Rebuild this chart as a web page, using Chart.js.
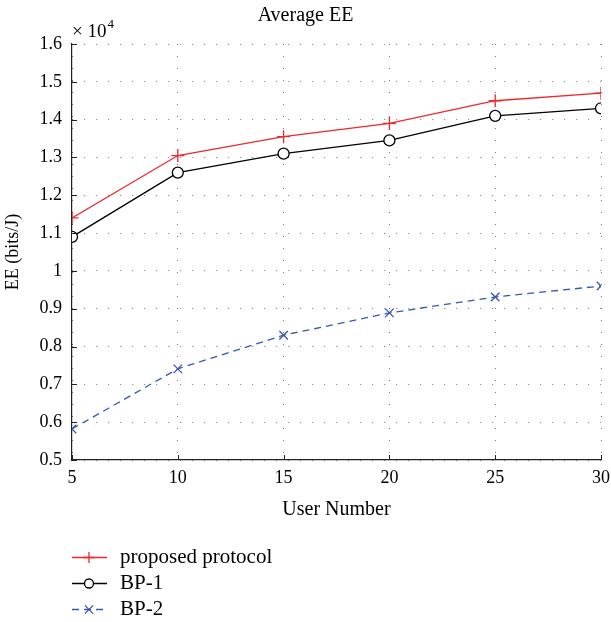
<!DOCTYPE html>
<html><head><meta charset="utf-8">
<script src="https://cdn.jsdelivr.net/npm/chart.js@4"></script>
<style>html,body{margin:0;padding:0;background:#fff}canvas{display:block}</style>
</head><body>
<canvas id="c" width="611" height="622"></canvas>
<script>
const userNumbers = [5, 10, 15, 20, 25, 30];
const proposed = [1.14, 1.305, 1.355, 1.39, 1.45, 1.47];
const bp1 = [1.09, 1.26, 1.31, 1.345, 1.41, 1.43];
const bp2 = [0.582, 0.741, 0.83, 0.889, 0.931, 0.96];
const seriesLabels = ['proposed protocol', 'BP-1', 'BP-2'];
const titleText = 'Average EE';
const xTitle = 'User Number';
const yTitle = 'EE (bits/J)';

const FONT = '"Liberation Serif", "DejaVu Serif", serif';
const toXY = arr => userNumbers.map((x, i) => ({x, y: arr[i]}));

function drawMarker(ctx, style, x, y, r, color) {
  ctx.save();
  ctx.strokeStyle = color; ctx.lineWidth = 1.3; ctx.setLineDash([]);
  ctx.beginPath();
  if (style === 'cross') {
    ctx.moveTo(x - r, y); ctx.lineTo(x + r, y);
    ctx.moveTo(x, y - r); ctx.lineTo(x, y + r);
  } else if (style === 'crossRot') {
    const d = r * 0.75;
    ctx.moveTo(x - d, y - d); ctx.lineTo(x + d, y + d);
    ctx.moveTo(x + d, y - d); ctx.lineTo(x - d, y + d);
  } else {
    ctx.arc(x, y, r, 0, Math.PI * 2);
    ctx.fillStyle = '#fff'; ctx.fill();
  }
  ctx.stroke();
  ctx.restore();
}

const extras = {
  id: 'extras',
  afterDraw(chart) {
    const ctx = chart.ctx;
    const xs = chart.scales.x, ys = chart.scales.y;
    const a = chart.chartArea;
    ctx.save();
    ctx.strokeStyle = '#222'; ctx.lineWidth = 1; ctx.setLineDash([]);
    ys.ticks.forEach(t => {
      const py = Math.round(ys.getPixelForValue(t.value)) + 0.5;
      ctx.beginPath(); ctx.moveTo(a.left, py); ctx.lineTo(a.left + 5, py); ctx.stroke();
    });
    xs.ticks.forEach(t => {
      const px = Math.round(xs.getPixelForValue(t.value)) + 0.5;
      ctx.beginPath(); ctx.moveTo(px, a.bottom); ctx.lineTo(px, a.bottom - 5); ctx.stroke();
    });
    // exponent
    ctx.fillStyle = '#000';
    ctx.textBaseline = 'alphabetic'; ctx.textAlign = 'left';
    ctx.font = '19px ' + FONT;
    ctx.fillText('\u00d7 10', a.left, a.top - 7);
    const w = ctx.measureText('\u00d7 10').width;
    ctx.font = '13px ' + FONT;
    ctx.fillText('4', a.left + w + 1, a.top - 16);
    // legend
    const rows = [557, 583, 609];
    chart.data.datasets.forEach((ds, i) => {
      const y = rows[i] + 0.5;
      ctx.save();
      ctx.strokeStyle = ds.borderColor; ctx.lineWidth = 1.3;
      ctx.setLineDash(ds.borderDash || []);
      ctx.beginPath(); ctx.moveTo(72, y); ctx.lineTo(107, y); ctx.stroke();
      ctx.restore();
      drawMarker(ctx, ds.pointStyle, 89, y, ds.pointStyle === 'circle' ? 4.5 : 5.5, ds.borderColor);
      ctx.fillStyle = '#000'; ctx.font = '21px ' + FONT;
      ctx.textBaseline = 'middle'; ctx.textAlign = 'left';
      ctx.fillText(ds.label, 120, rows[i]);
    });
    ctx.restore();
  }
};

new Chart(document.getElementById('c'), {
  type: 'line',
  data: {
    datasets: [
      {label: seriesLabels[0], data: toXY(proposed), borderColor: '#f0262b', backgroundColor: '#f0262b',
       borderWidth: 1.3, pointStyle: 'cross', pointRadius: 6.5, pointBorderWidth: 1.3, pointBorderColor: '#f0262b'},
      {label: seriesLabels[1], data: toXY(bp1), borderColor: '#000000', backgroundColor: '#ffffff',
       borderWidth: 1.3, pointStyle: 'circle', pointRadius: 5.5, pointBorderWidth: 1.3, pointBackgroundColor: '#ffffff'},
      {label: seriesLabels[2], data: toXY(bp2), borderColor: '#3557b5', backgroundColor: '#3557b5',
       borderWidth: 1.3, borderDash: [7, 5], pointStyle: 'crossRot', pointRadius: 6, pointBorderWidth: 1.3}
    ]
  },
  options: {
    responsive: false, animation: false,
    layout: {padding: {left: 0, right: 0, top: 0, bottom: 92}},
    plugins: {
      legend: {display: false},
      tooltip: {enabled: false},
      title: {display: true, text: titleText, color: '#000', font: {family: FONT, size: 20, weight: 'normal'},
              padding: {top: 4, bottom: 16}}
    },
    scales: {
      x: {
        type: 'linear', min: 5, max: 30,
        ticks: {stepSize: 5, color: '#000', font: {family: FONT, size: 18}, padding: 7},
        grid: {color: '#777', lineWidth: 1, drawTicks: false},
        border: {display: true, color: '#222', width: 1.2, dash: [1, 11]},
        title: {display: true, text: xTitle, color: '#000', font: {family: FONT, size: 20}, padding: {top: 0, bottom: 8}},
        afterFit: s => { s.height = 70; s.paddingRight = 10; s.paddingLeft = 0; }
      },
      y: {
        min: 0.5, max: 1.6,
        ticks: {stepSize: 0.1, color: '#000', font: {family: FONT, size: 18}, padding: 10,
                callback: v => String(Math.round(v * 10) / 10)},
        grid: {color: '#777', lineWidth: 1, drawTicks: false},
        border: {display: true, color: '#222', width: 1.2, dash: [1, 11]},
        title: {display: true, text: yTitle, color: '#000', font: {family: FONT, size: 18}, padding: {top: 2, bottom: 0}},
        afterFit: s => { s.width = 72; }
      }
    }
  },
  plugins: [extras]
});
</script>
</body></html>
